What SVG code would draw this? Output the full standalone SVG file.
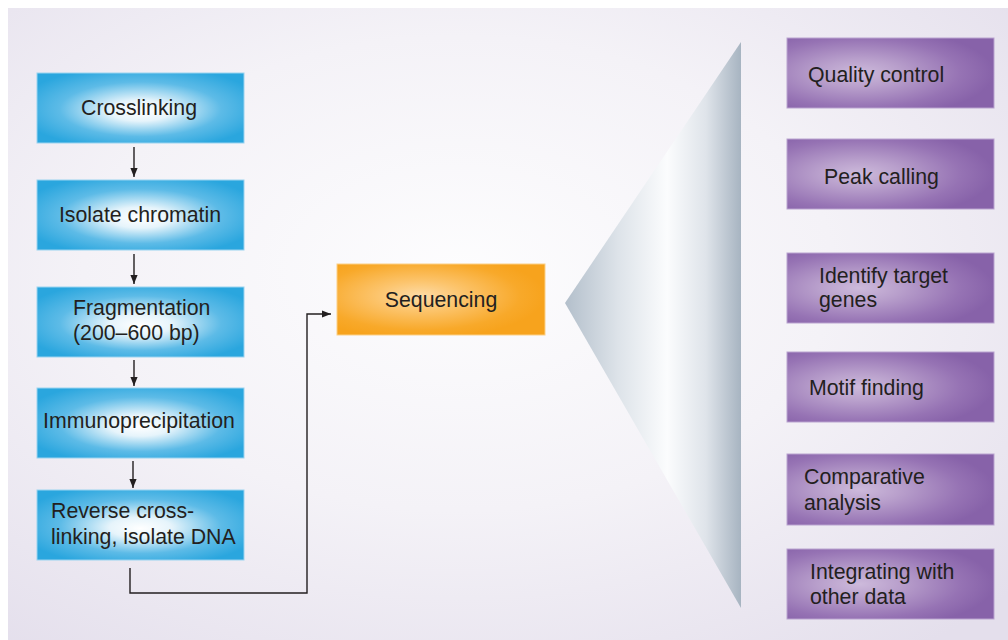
<svg xmlns="http://www.w3.org/2000/svg" width="1008" height="640" viewBox="0 0 1008 640">
<defs>
<radialGradient id="bg" cx="0.45" cy="0.42" r="0.75">
<stop offset="0" stop-color="#fdfdfe"/>
<stop offset="0.5" stop-color="#f4f2f7"/>
<stop offset="1" stop-color="#e4dfec"/>
</radialGradient>
<radialGradient id="blue" cx="0.5" cy="0.5" r="0.6" fx="0.5" fy="0.55">
<stop offset="0" stop-color="#ffffff"/>
<stop offset="0.25" stop-color="#e6f4fb"/>
<stop offset="0.65" stop-color="#5dbbe7"/>
<stop offset="1" stop-color="#2aa6de"/>
</radialGradient>
<radialGradient id="orange" cx="0.4" cy="0.45" r="0.6">
<stop offset="0" stop-color="#fddba6"/>
<stop offset="0.35" stop-color="#fcc46c"/>
<stop offset="0.8" stop-color="#f8a92a"/>
<stop offset="1" stop-color="#f7a31d"/>
</radialGradient>
<radialGradient id="purple" cx="0.35" cy="0.5" r="0.65">
<stop offset="0" stop-color="#cdbadb"/>
<stop offset="0.3" stop-color="#b9a0cc"/>
<stop offset="0.75" stop-color="#9673b4"/>
<stop offset="1" stop-color="#8762a9"/>
</radialGradient>
<linearGradient id="tri" x1="565" y1="0" x2="741" y2="0" gradientUnits="userSpaceOnUse">
<stop offset="0" stop-color="#b3bfcb"/>
<stop offset="0.3" stop-color="#dde3e9"/>
<stop offset="0.58" stop-color="#fbfcfd"/>
<stop offset="0.8" stop-color="#dfe4ea"/>
<stop offset="1" stop-color="#a7b4c1"/>
</linearGradient>
<marker id="ah" viewBox="0 0 10 10" refX="10" refY="5" markerWidth="9" markerHeight="9" markerUnits="userSpaceOnUse" orient="auto">
<path d="M0,1 L10,5 L0,9 Z" fill="#231f20"/>
</marker>
<style>
.t{font-family:"Liberation Sans",Arial,sans-serif;font-size:21.3px;fill:#231f20}
.c{text-anchor:middle}
.b{fill:url(#blue);stroke:#9ad3f0;stroke-width:1}
.o{fill:url(#orange);stroke:#fbcf86;stroke-width:1}
.p{fill:url(#purple);stroke:#b9a3cf;stroke-width:1}
.ln{fill:none;stroke:#231f20;stroke-width:1.4}
</style>
</defs>
<rect x="0" y="0" width="1008" height="640" fill="#ffffff"/>
<rect x="8" y="8" width="1000" height="632" fill="url(#bg)"/>

<g id="connectors">
<line class="ln" x1="134" y1="147" x2="134" y2="177" marker-end="url(#ah)"/>
<line class="ln" x1="134" y1="254" x2="134" y2="284" marker-end="url(#ah)"/>
<line class="ln" x1="134" y1="360" x2="134" y2="386" marker-end="url(#ah)"/>
<line class="ln" x1="133" y1="461" x2="133" y2="488" marker-end="url(#ah)"/>
<polyline class="ln" points="130,568 130,593 307,593 307,314 331,314" marker-end="url(#ah)"/>
</g>

<g id="crosslinking">
<rect class="b" x="37" y="73" width="207" height="70"/>
<text class="t c" x="139" y="115">Crosslinking</text>
</g>
<g id="isolate-chromatin">
<rect class="b" x="37" y="180" width="207" height="70"/>
<text class="t c" x="140" y="222">Isolate chromatin</text>
</g>
<g id="fragmentation">
<rect class="b" x="37" y="287" width="207" height="70"/>
<text class="t" x="73" y="315">Fragmentation</text>
<text class="t" x="73" y="340">(200–600 bp)</text>
</g>
<g id="immunoprecipitation">
<rect class="b" x="37" y="388" width="207" height="70"/>
<text class="t c" x="139" y="428">Immunoprecipitation</text>
</g>
<g id="reverse-crosslinking">
<rect class="b" x="37" y="490" width="207" height="70"/>
<text class="t" x="51" y="518">Reverse cross-</text>
<text class="t" x="51" y="544">linking, isolate DNA</text>
</g>

<g id="sequencing">
<rect class="o" x="337" y="264" width="208" height="71"/>
<text class="t c" x="441" y="307">Sequencing</text>
</g>

<g id="fan">
<polygon points="565,303 741,42 741,608" fill="url(#tri)"/>
</g>

<g id="quality-control">
<rect class="p" x="787" y="38" width="207" height="70"/>
<text class="t" x="808" y="82">Quality control</text>
</g>
<g id="peak-calling">
<rect class="p" x="787" y="139" width="207" height="70"/>
<text class="t" x="824" y="184">Peak calling</text>
</g>
<g id="identify-target-genes">
<rect class="p" x="787" y="253" width="207" height="70"/>
<text class="t" x="819" y="283">Identify target</text>
<text class="t" x="819" y="307">genes</text>
</g>
<g id="motif-finding">
<rect class="p" x="787" y="352" width="207" height="70"/>
<text class="t" x="809" y="395">Motif finding</text>
</g>
<g id="comparative-analysis">
<rect class="p" x="787" y="454" width="207" height="71"/>
<text class="t" x="804" y="484">Comparative</text>
<text class="t" x="804" y="510">analysis</text>
</g>
<g id="integrating">
<rect class="p" x="787" y="549" width="207" height="70"/>
<text class="t" x="810" y="579">Integrating with</text>
<text class="t" x="810" y="604">other data</text>
</g>
</svg>
